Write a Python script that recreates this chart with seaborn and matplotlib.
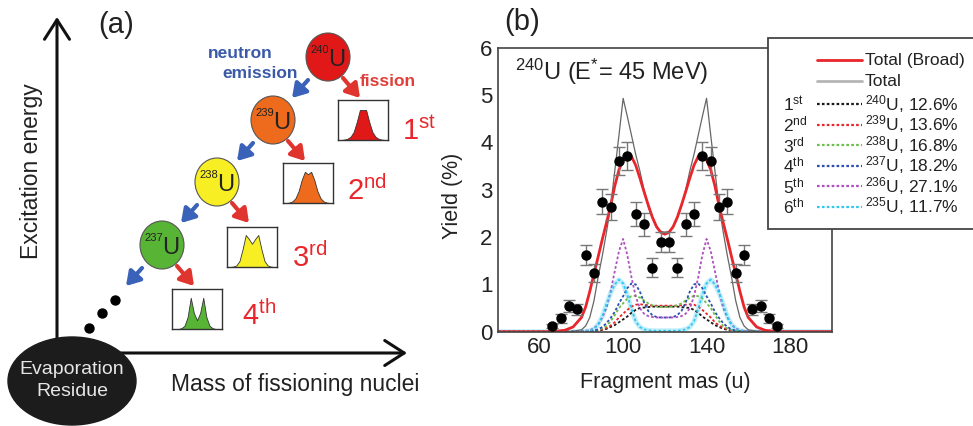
import numpy as np
import pandas as pd
import matplotlib
matplotlib.use("Agg")
import matplotlib.pyplot as plt
import seaborn as sns
from matplotlib.patches import Ellipse, Rectangle
from matplotlib.lines import Line2D

W, H = 973, 426

# ---- panel (b): fragment mass yields ----
mass_grid = [40, 60, 64, 68, 72, 76, 80, 82, 84, 86, 88, 90, 92, 94, 96, 98, 100, 102, 104, 106, 108, 110, 112, 114, 116, 118,
             120,
             122, 124, 126, 128, 130, 132, 134, 136, 138, 140, 142, 144, 146, 148, 150, 152, 154, 156, 158, 160,
             164, 168, 172, 176, 180, 200]

total_broad = [0, 0, 0, 0.01, 0.03, 0.1, 0.3, 0.52, 0.85, 1.22, 1.58, 1.95, 2.3, 2.66, 3.08, 3.42, 3.63, 3.73, 3.7, 3.52,
               3.25, 2.96, 2.68, 2.42, 2.22, 2.1,
               2.06,
               2.1, 2.22, 2.42, 2.68, 2.96, 3.25, 3.52, 3.7, 3.73, 3.63, 3.42, 3.08, 2.66, 2.3, 1.95, 1.58, 1.22, 0.85,
               0.52, 0.3, 0.1, 0.03, 0.01, 0, 0, 0]
total = [0, 0, 0, 0, 0, 0.01, 0.04, 0.12, 0.3, 0.65, 1.15, 1.6, 2.1, 2.65, 3.4, 4.15, 4.93, 4.55, 4.15, 3.75, 3.4, 3.0,
         2.65, 2.4, 2.2, 2.12,
         2.1,
         2.12, 2.2, 2.4, 2.65, 3.0, 3.4, 3.75, 4.15, 4.55, 4.93, 4.15, 3.4, 2.65, 2.1, 1.6, 1.15, 0.65, 0.3, 0.12, 0.04,
         0.01, 0, 0, 0, 0, 0]

chance_240 = [0, 0, 0, 0, 0, 0, 0, 0, 0, 0.01, 0.02, 0.04, 0.06, 0.1, 0.14, 0.2, 0.26, 0.32, 0.4, 0.46, 0.5, 0.51, 0.52,
              0.53, 0.53, 0.53,
              0.53,
              0.53, 0.53, 0.53, 0.52, 0.51, 0.5, 0.46, 0.4, 0.32, 0.26, 0.2, 0.14, 0.1, 0.06, 0.04, 0.02, 0.01, 0, 0, 0,
              0, 0, 0, 0, 0, 0]
chance_239 = [0, 0, 0, 0, 0, 0, 0, 0, 0.01, 0.02, 0.03, 0.05, 0.08, 0.13, 0.2, 0.3, 0.38, 0.46, 0.53, 0.57, 0.58, 0.57,
              0.56, 0.55, 0.55, 0.55,
              0.55,
              0.55, 0.55, 0.55, 0.56, 0.57, 0.58, 0.57, 0.53, 0.46, 0.38, 0.3, 0.2, 0.13, 0.08, 0.05, 0.03, 0.02, 0.01,
              0, 0, 0, 0, 0, 0, 0, 0]
chance_238 = [0, 0, 0, 0, 0, 0, 0, 0, 0.01, 0.02, 0.04, 0.07, 0.12, 0.22, 0.35, 0.5, 0.6, 0.7, 0.75, 0.76, 0.72, 0.66,
              0.6, 0.56, 0.53, 0.52,
              0.52,
              0.52, 0.53, 0.56, 0.6, 0.66, 0.72, 0.76, 0.75, 0.7, 0.6, 0.5, 0.35, 0.22, 0.12, 0.07, 0.04, 0.02, 0.01,
              0, 0, 0, 0, 0, 0, 0, 0]
chance_237 = [0, 0, 0, 0, 0, 0, 0, 0, 0.01, 0.02, 0.05, 0.1, 0.18, 0.29, 0.42, 0.6, 0.75, 0.92, 1.02, 1.0, 0.85, 0.62,
              0.44, 0.35, 0.31, 0.3,
              0.3,
              0.3, 0.31, 0.35, 0.44, 0.62, 0.85, 1.0, 1.02, 0.92, 0.75, 0.6, 0.42, 0.29, 0.18, 0.1, 0.05, 0.02, 0.01,
              0, 0, 0, 0, 0, 0, 0, 0]
chance_236 = [0, 0, 0, 0, 0, 0, 0.01, 0.02, 0.03, 0.07, 0.15, 0.3, 0.5, 0.85, 1.28, 1.7, 1.96, 1.62, 1.15, 0.75, 0.5,
              0.38, 0.33, 0.31, 0.3, 0.3,
              0.3,
              0.3, 0.3, 0.31, 0.33, 0.38, 0.5, 0.75, 1.15, 1.62, 1.96, 1.7, 1.28, 0.85, 0.5, 0.3, 0.15, 0.07, 0.03,
              0.02, 0.01, 0, 0, 0, 0, 0, 0]
chance_235 = [0, 0, 0, 0, 0, 0, 0, 0.01, 0.02, 0.06, 0.15, 0.32, 0.58, 0.82, 1.0, 1.1, 1.02, 0.78, 0.48, 0.22, 0.1,
              0.05, 0.03, 0.02, 0.02, 0.02,
              0.02,
              0.02, 0.02, 0.02, 0.03, 0.05, 0.1, 0.22, 0.48, 0.78, 1.02, 1.1, 1.0, 0.82, 0.58, 0.32, 0.15, 0.06, 0.02,
              0.01, 0, 0, 0, 0, 0, 0, 0]

mass_pts = [66, 70, 74, 78, 82, 86, 90, 94, 98, 102, 106, 110, 114, 118,
            122, 126, 130, 134, 138, 142, 146, 150, 154, 158, 162, 166, 170, 174]
yield_pts = [0.12, 0.28, 0.54, 0.47, 1.62, 1.23, 2.75, 2.64, 3.61, 3.71, 2.48, 2.27, 1.35, 1.90,
             1.90, 1.35, 2.27, 2.48, 3.71, 3.61, 2.64, 2.75, 1.23, 1.62, 0.47, 0.54, 0.28, 0.12]
yield_err = [0.05, 0.09, 0.12, 0.12, 0.21, 0.19, 0.27, 0.27, 0.3, 0.3, 0.25, 0.24, 0.2, 0.21,
             0.21, 0.2, 0.24, 0.25, 0.3, 0.3, 0.27, 0.27, 0.19, 0.21, 0.12, 0.12, 0.09, 0.05]

ordinals = ["st", "nd", "rd", "th", "th", "th"]
nuclei = [240, 239, 238, 237, 236, 235]
shares = [12.6, 13.6, 16.8, 18.2, 27.1, 11.7]
comp_colors = ["#1a1a1a", "#e8262b", "#6cc04a", "#2a4fb0", "#b04fc0", "#30c8f0"]
components = [chance_240, chance_239, chance_238, chance_237, chance_236, chance_235]

# ---- panel (a): de-excitation chain ----
chain_mass = [240, 239, 238, 237]
chain_colors = ["#e01818", "#ee6a1c", "#f7ef23", "#58b435"]
mini_x = list(range(17))
mini_1st = [0, 0, 0.01, 0.03, 0.08, 0.2, 0.45, 0.75, 0.75, 0.75, 0.45, 0.2, 0.08, 0.03, 0.01, 0, 0]
mini_2nd = [0, 0, 0.01, 0.04, 0.12, 0.3, 0.58, 0.78, 0.72, 0.78, 0.58, 0.3, 0.12, 0.04, 0.01, 0, 0]
mini_3rd = [0, 0, 0.01, 0.04, 0.15, 0.45, 0.8, 0.7, 0.58, 0.7, 0.8, 0.45, 0.15, 0.04, 0.01, 0, 0]
mini_4th = [0, 0, 0, 0.02, 0.08, 0.3, 0.78, 0.4, 0.22, 0.4, 0.78, 0.3, 0.08, 0.02, 0, 0, 0]
mini_spectra = [mini_1st, mini_2nd, mini_3rd, mini_4th]

for series in [total_broad, total] + components:
    assert len(series) == len(mass_grid)

sns.set_theme(style="white")
plt.rcParams["font.family"] = ["Liberation Sans", "DejaVu Sans"]
plt.rcParams["mathtext.fontset"] = "custom"
plt.rcParams["mathtext.rm"] = "Liberation Sans"
plt.rcParams["mathtext.it"] = "Liberation Sans:italic"
plt.rcParams["mathtext.bf"] = "Liberation Sans:bold"
plt.rcParams["mathtext.sf"] = "Liberation Sans"


def fx(px):
    return px / W


def fy(py):
    return 1 - py / H


fig = plt.figure(figsize=(W / 100, H / 100), dpi=100)

# ================= panel (a) =================
axa = fig.add_axes([0, 0, 440 / W, 1])
axa.set_xlim(0, 440)
axa.set_ylim(H, 0)
axa.axis("off")

axis_arrow = dict(arrowstyle="->,head_length=0.7,head_width=0.45", lw=2.2, color="#111111",
                  mutation_scale=20, shrinkA=0, shrinkB=0)
axa.annotate("", xy=(57, 17), xytext=(57, 354), arrowprops=axis_arrow)
axa.annotate("", xy=(407, 353), xytext=(56, 353), arrowprops=axis_arrow)

axa.add_patch(Ellipse((72, 381), 128, 88, color="#1c1c1c", zorder=5))
axa.text(72, 369, "Evaporation", color="#e6e6e6", fontsize=14, ha="center", va="center", zorder=6)
axa.text(72, 392, "Residue", color="#e6e6e6", fontsize=14, ha="center", va="center", zorder=6)

axa.text(116, 25, "(a)", fontsize=21, ha="center", va="center", color="#222222")
axa.text(32, 171, "Excitation energy", fontsize=16.5, rotation=90, ha="center", va="center", color="#222222")
axa.text(295, 385, "Mass of fissioning nuclei", fontsize=16.5, ha="center", va="center", color="#222222")

centers = [(328, 57), (273, 120), (217, 182), (162, 245)]
boxes = [(338, 100), (283, 163), (227, 227), (172, 289)]
ord_pos = [(402, 140), (347, 200), (292, 267), (242, 325)]

for i, (cx, cy) in enumerate(centers):
    axa.add_patch(Ellipse((cx, cy), 44, 48, facecolor=chain_colors[i], edgecolor="#555555", lw=0.8, zorder=3))
    axa.text(cx - 8, cy - 7, str(chain_mass[i]), fontsize=8, ha="center", va="center", color="#222222", zorder=4)
    axa.text(cx + 9, cy + 3, "U", fontsize=17, ha="center", va="center", color="#222222", zorder=4)
    axa.annotate("", xy=(cx - 36, cy + 41), xytext=(cx - 20, cy + 23),
                 arrowprops=dict(arrowstyle="-|>,head_length=0.8,head_width=0.5", lw=3, color="#3a62b8",
                                 mutation_scale=10, shrinkA=0, shrinkB=0))
    axa.annotate("", xy=(cx + 32, cy + 41), xytext=(cx + 15, cy + 21),
                 arrowprops=dict(arrowstyle="-|>,head_length=0.8,head_width=0.5", lw=3, color="#e0352e",
                                 mutation_scale=10, shrinkA=0, shrinkB=0))

    bx, by = boxes[i]
    axm = fig.add_axes([fx(bx), fy(by + 40), 50 / W, 40 / H])
    axm.fill_between(mini_x, mini_spectra[i], color=chain_colors[i], edgecolor="#333333", lw=0.6)
    axm.set_xlim(0, 16)
    axm.set_ylim(0, 1)
    axm.set_xticks([])
    axm.set_yticks([])
    for sp in axm.spines.values():
        sp.set_color("#333333")
        sp.set_linewidth(1)

    ox, oy = ord_pos[i]
    axa.text(ox, oy, rf"{i + 1}$^{{\mathrm{{{ordinals[i]}}}}}$", fontsize=21, color="#e8262b",
             ha="left", va="baseline")

axa.scatter([115, 102, 89], [300, 313, 328], s=42, color="black", zorder=3)
axa.text(240, 54, "neutron", fontsize=12.5, fontweight="bold", color="#3a5aa8", ha="center", va="center")
axa.text(260, 73, "emission", fontsize=12.5, fontweight="bold", color="#3a5aa8", ha="center", va="center")
axa.text(388, 82, "fission", fontsize=12.5, fontweight="bold", color="#e0403a", ha="center", va="center")

# ================= panel (b) =================
axb = fig.add_axes([fx(498), fy(331.7), (831.7 - 498) / W, (331.7 - 47.7) / H])

sns.lineplot(x=mass_grid, y=chance_235, ax=axb, color=comp_colors[5], lw=3.5, alpha=0.3)
for vals, col in zip(components, comp_colors):
    sns.lineplot(x=mass_grid, y=vals, ax=axb, color=col, lw=1.3, linestyle=(0, (1.5, 1.2)))
sns.lineplot(x=mass_grid, y=total, ax=axb, color="#666666", lw=0.9)
sns.lineplot(x=mass_grid, y=total_broad, ax=axb, color="#e8262b", lw=2)

axb.errorbar(mass_pts, yield_pts, yerr=yield_err, fmt="o", color="black", ms=6.5,
             ecolor="#777777", elinewidth=1, capsize=4, capthick=1, zorder=6)

axb.set_xlim(40, 200)
axb.set_ylim(0, 6)
axb.set_xticks([60, 100, 140, 180])
axb.set_yticks(range(7))
axb.tick_params(direction="in", length=5, color="#999999", labelsize=16, labelcolor="#222222", pad=4)
for sp in axb.spines.values():
    sp.set_color("#444444")
    sp.set_linewidth(1.2)

axb.set_xlabel("Fragment mas (u)", fontsize=15.5, color="#222222")
axb.set_ylabel("Yield (%)", fontsize=15.5, color="#222222")
axb.xaxis.set_label_coords(0.5, -0.142)
axb.yaxis.set_label_coords(-0.105, 0.48)
axb.text(0.051, 0.914, r"$^{240}$U (E$^{*}$= 45 MeV)", transform=axb.transAxes, fontsize=17,
         ha="left", va="center", color="#222222")
fig.text(fx(522), fy(22), "(b)", fontsize=21, ha="center", va="center", color="#222222")

# legend drawn by hand in figure pixels
fig.add_artist(Rectangle((fx(768), fy(229)), (990 - 768) / W, (229 - 38) / H, transform=fig.transFigure,
                         facecolor="white", edgecolor="#444444", lw=1.3, zorder=10))
fig.add_artist(Line2D([fx(817), fx(862)], [fy(60), fy(60)], transform=fig.transFigure,
                      color="#e8262b", lw=2, zorder=11))
fig.text(fx(865), fy(60), "Total (Broad)", fontsize=12.5, va="center", color="#222222", zorder=11)
fig.add_artist(Line2D([fx(817), fx(862)], [fy(81), fy(81)], transform=fig.transFigure,
                      color="#b5b5b5", lw=2, zorder=11))
fig.text(fx(865), fy(81), "Total", fontsize=12.5, va="center", color="#222222", zorder=11)
for i in range(6):
    ry = 104 + 20.5 * i
    fig.add_artist(Line2D([fx(817), fx(862)], [fy(ry), fy(ry)], transform=fig.transFigure,
                          color=comp_colors[i], lw=1.6, linestyle=(0, (1.2, 1.0)), zorder=11))
    fig.text(fx(783), fy(ry), rf"{i + 1}$^{{\mathrm{{{ordinals[i]}}}}}$", fontsize=12.5,
             va="center", color="#222222", zorder=11)
    fig.text(fx(865), fy(ry), rf"$^{{{nuclei[i]}}}$U, {shares[i]:.1f}%", fontsize=12.5,
             va="center", color="#222222", zorder=11)

fig.savefig("out.png", dpi=100)
